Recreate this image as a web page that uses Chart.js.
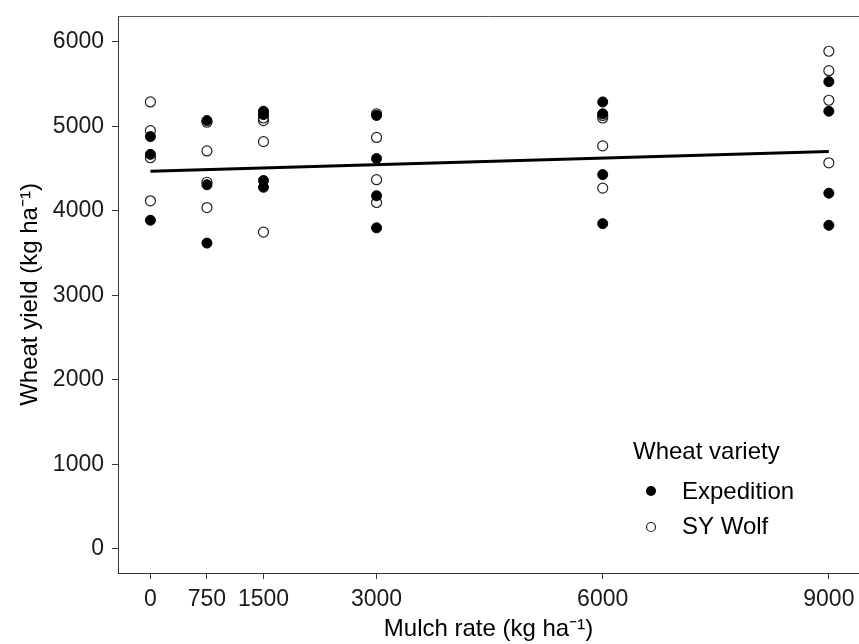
<!DOCTYPE html>
<html>
<head>
<meta charset="utf-8">
<script src="https://cdn.jsdelivr.net/npm/chart.js@4"></script>
<style>
  body { margin: 0; background: #fff; }
  canvas { display: block; }
</style>
</head>
<body>
<canvas id="chart" width="859" height="644"></canvas>
<script>
// mulch rates (kg/ha) and yields, one row per rate
const mulchRates = [0, 750, 1500, 3000, 6000, 9000];
const expeditionYield = [
  [4880, 4670, 3890],
  [5070, 4310, 3620],
  [5180, 5140, 4360, 4280],
  [5130, 4620, 4180, 3800],
  [5290, 5150, 4430, 3850],
  [5530, 5180, 4210, 3830]
];
const wolfYield = [
  [5290, 4950, 4630, 4120],
  [5050, 4710, 4340, 4040],
  [5100, 5070, 4820, 3750],
  [5150, 4870, 4370, 4100],
  [5130, 5100, 4770, 4270],
  [5890, 5660, 5310, 4570]
];
// fitted line endpoints
const trendX = [0, 9000];
const trendY = [4470, 4705];

const xTicks = [0, 750, 1500, 3000, 6000, 9000];
const yTicks = [0, 1000, 2000, 3000, 4000, 5000, 6000];

const toPoints = rows => rows.flatMap((ys, i) => ys.map(y => ({ x: mulchRates[i], y: y })));

const FONT = "'Liberation Sans', Arial, sans-serif";

const topBorder = {
  id: 'topBorder',
  afterDraw(chart) {
    const { ctx, chartArea } = chart;
    ctx.save();
    ctx.strokeStyle = '#555';
    ctx.lineWidth = 1;
    ctx.beginPath();
    ctx.moveTo(chartArea.left, chartArea.top + 0.5);
    ctx.lineTo(chartArea.right, chartArea.top + 0.5);
    ctx.stroke();
    ctx.restore();
  }
};

// legend box inside the panel, bottom right
const varietyLegend = {
  id: 'varietyLegend',
  afterDraw(chart) {
    const ctx = chart.ctx;
    ctx.save();
    ctx.fillStyle = '#000';
    ctx.font = '24px ' + FONT;
    ctx.textBaseline = 'middle';
    ctx.fillText('Wheat variety', 633, 452);
    ctx.fillText('Expedition', 682, 492);
    ctx.fillText('SY Wolf', 682, 527);
    ctx.beginPath();
    ctx.arc(651, 491, 5, 0, Math.PI * 2);
    ctx.fill();
    ctx.beginPath();
    ctx.arc(651, 527, 4.5, 0, Math.PI * 2);
    ctx.strokeStyle = '#222';
    ctx.lineWidth = 1.2;
    ctx.stroke();
    ctx.restore();
  }
};

new Chart(document.getElementById('chart'), {
  type: 'scatter',
  data: {
    datasets: [
      {
        label: 'SY Wolf',
        data: toPoints(wolfYield),
        pointRadius: 5,
        backgroundColor: 'rgba(0,0,0,0)',
        borderColor: '#222',
        borderWidth: 1.2,
        order: 3
      },
      {
        label: 'Expedition',
        data: toPoints(expeditionYield),
        pointRadius: 5,
        backgroundColor: '#000',
        borderColor: '#000',
        borderWidth: 1,
        order: 2
      },
      {
        type: 'line',
        label: 'fit',
        data: trendX.map((x, i) => ({ x: x, y: trendY[i] })),
        borderColor: '#000',
        borderWidth: 3,
        pointRadius: 0,
        fill: false,
        order: 1
      }
    ]
  },
  options: {
    responsive: false,
    animation: false,
    layout: { autoPadding: false, padding: { top: 16, right: 0, left: 0, bottom: 0 } },
    plugins: {
      legend: { display: false },
      tooltip: { enabled: false }
    },
    scales: {
      x: {
        type: 'linear',
        min: -430,
        max: 9400,
        afterBuildTicks: s => { s.ticks = xTicks.map(v => ({ value: v })); },
        afterFit: s => {
          s.height = 71;
          s.paddingLeft = 0;
          s.paddingRight = 0;
        },
        ticks: {
          autoSkip: false,
          maxRotation: 0,
          padding: 7,
          color: '#1a1a1a',
          font: { family: FONT, size: 23 },
          callback: v => String(v)
        },
        grid: { drawOnChartArea: false, tickLength: 6, color: '#333' },
        border: { color: '#333', width: 1 },
        title: {
          display: true,
          text: 'Mulch rate (kg ha⁻¹)',
          color: '#000',
          font: { family: FONT, size: 24 },
          padding: { top: 0, bottom: 0 }
        }
      },
      y: {
        min: -284,
        max: 6307,
        afterBuildTicks: s => { s.ticks = yTicks.map(v => ({ value: v })); },
        afterFit: s => {
          s.width = 118;
          s.paddingTop = 0;
          s.paddingBottom = 0;
        },
        ticks: {
          padding: 8,
          color: '#1a1a1a',
          font: { family: FONT, size: 23 },
          callback: v => String(v)
        },
        grid: { drawOnChartArea: false, tickLength: 6, color: '#333' },
        border: { color: '#333', width: 1 },
        title: {
          display: true,
          text: 'Wheat yield (kg ha⁻¹)',
          color: '#000',
          font: { family: FONT, size: 24 },
          padding: { top: 16, bottom: 0 }
        }
      }
    }
  },
  plugins: [topBorder, varietyLegend]
});
</script>
</body>
</html>
